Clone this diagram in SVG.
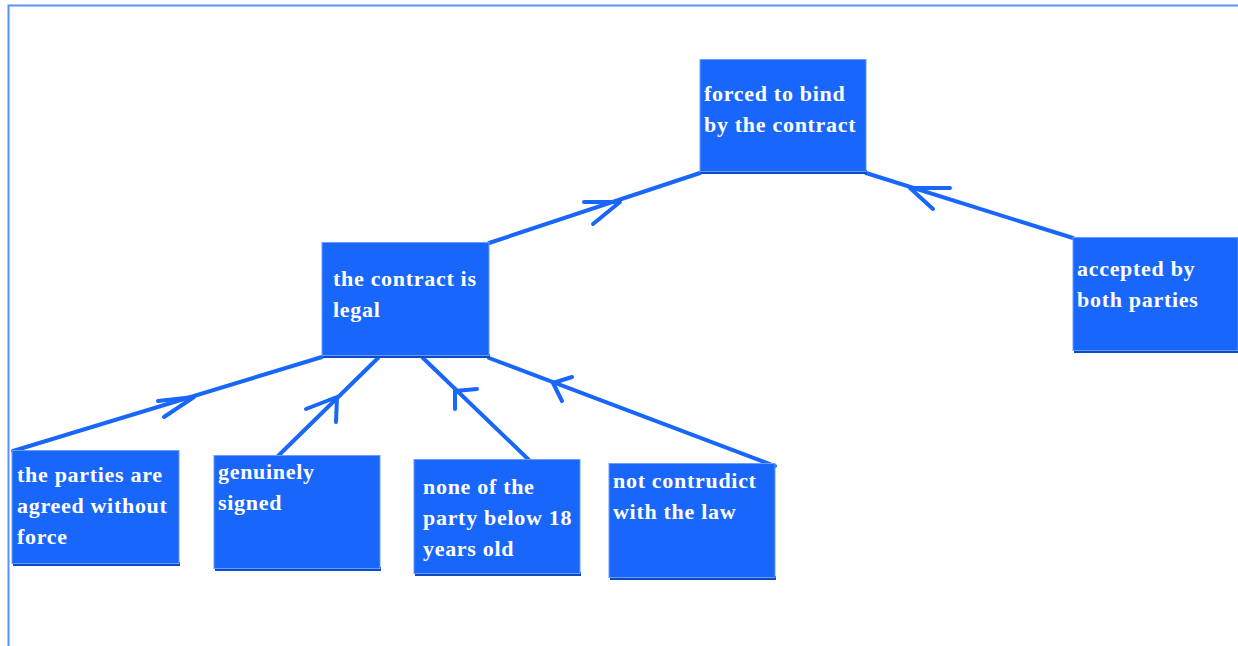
<svg xmlns="http://www.w3.org/2000/svg" width="1238" height="646" viewBox="0 0 1238 646">
<style>
.box{fill:#1966fa;stroke:#6b9bff;stroke-width:1}
.shadow{fill:#0c4bc4}
.lbl{font-family:"Liberation Serif","DejaVu Serif",serif;font-weight:bold;font-size:22px;letter-spacing:0.7px;fill:#ffffff}
.ln{stroke:#1966fa;stroke-width:4;fill:none;stroke-linecap:round;stroke-linejoin:round}
.frame{stroke:#5c8ff7;stroke-width:2;fill:none}
</style>
<rect width="1238" height="646" fill="#ffffff"/>
<path class="frame" d="M8.5,646 V5.5 H1238"/>
<g id="connectors">
<line class="ln" x1="489" y1="243" x2="700" y2="173"/>
<polyline class="ln" points="584,202 620,202 593,224"/>
<line class="ln" x1="1073" y1="238" x2="866" y2="173"/>
<polyline class="ln" points="950,188 910,188 933,209"/>
<line class="ln" x1="13" y1="451" x2="322" y2="357"/>
<polyline class="ln" points="158,401 194,397 164,417"/>
<line class="ln" x1="278" y1="456" x2="378" y2="358"/>
<polyline class="ln" points="306,409 337,397 336,422"/>
<line class="ln" x1="530" y1="461" x2="423" y2="358"/>
<polyline class="ln" points="477,389 455,391 455,409"/>
<line class="ln" x1="775" y1="466" x2="489" y2="358"/>
<polyline class="ln" points="572,377 553,383 562,401"/>
</g>
<g id="n_forced">
<rect class="shadow" x="701" y="170" width="166" height="4"/>
<rect class="box" x="700" y="59.5" width="166" height="112"/>
<text class="lbl" x="704" y="101">forced to bind</text>
<text class="lbl" x="704" y="132">by the contract</text>
</g>
<g id="n_legal">
<rect class="shadow" x="323" y="354" width="167" height="4"/>
<rect class="box" x="322" y="242.5" width="167" height="113"/>
<text class="lbl" x="333" y="286">the contract is</text>
<text class="lbl" x="333" y="317">legal</text>
</g>
<g id="n_accepted">
<rect class="shadow" x="1074" y="349" width="164" height="4"/>
<rect class="box" x="1073" y="237.5" width="165" height="113"/>
<text class="lbl" x="1077" y="276">accepted by</text>
<text class="lbl" x="1077" y="307">both parties</text>
</g>
<g id="n_parties">
<rect class="shadow" x="13" y="562" width="167" height="4"/>
<rect class="box" x="12" y="450.5" width="167" height="113"/>
<text class="lbl" x="17" y="482">the parties are</text>
<text class="lbl" x="17" y="513">agreed without</text>
<text class="lbl" x="17" y="544">force</text>
</g>
<g id="n_genuinely">
<rect class="shadow" x="215" y="567" width="166" height="4"/>
<rect class="box" x="214" y="455.5" width="166" height="113"/>
<text class="lbl" x="218" y="479">genuinely</text>
<text class="lbl" x="218" y="510">signed</text>
</g>
<g id="n_none">
<rect class="shadow" x="415" y="572" width="166" height="4"/>
<rect class="box" x="414" y="459.5" width="166" height="114"/>
<text class="lbl" x="423" y="494">none of the</text>
<text class="lbl" x="423" y="525">party below 18</text>
<text class="lbl" x="423" y="556">years old</text>
</g>
<g id="n_law">
<rect class="shadow" x="610" y="576" width="166" height="4"/>
<rect class="box" x="609" y="463.5" width="166" height="114"/>
<text class="lbl" x="613" y="488">not contrudict</text>
<text class="lbl" x="613" y="519">with the law</text>
</g>
</svg>
